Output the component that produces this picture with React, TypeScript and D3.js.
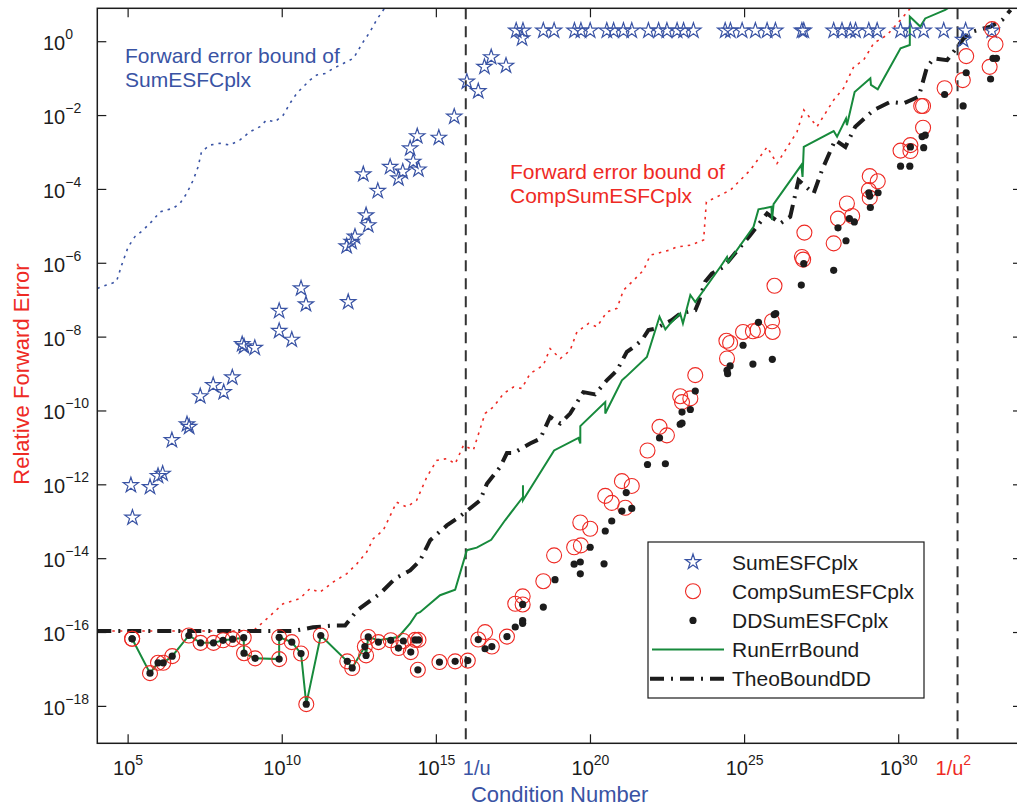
import React from "react";
import * as d3 from "d3";

// all values are log10 of the condition number / relative forward error

const sumCond = [5.09, 5.14, 5.71, 5.97, 6.12, 6.42, 6.91, 6.98, 7.34, 7.76, 8.1, 8.38, 8.7, 8.76, 9.11, 9.9, 9.9, 10.31, 10.61, 10.77, 12.14, 12.09, 12.25, 12.36, 12.72, 12.79, 13.1, 12.63, 13.5, 13.77, 13.91, 14.25, 14.42, 14.15, 14.38, 15.08, 15.58, 15.99, 16.36, 16.56, 16.78, 17.26, 17.78, 32.09];
const sumErr = [-12.01, -12.89, -12.06, -11.76, -11.7, -10.79, -10.36, -10.43, -9.6, -9.3, -9.49, -9.09, -8.19, -8.25, -8.29, -7.29, -7.83, -8.07, -6.68, -7.11, -7.05, -5.54, -5.42, -5.28, -4.7, -4.97, -4.04, -3.59, -3.39, -3.7, -3.52, -3.25, -3.46, -2.89, -2.56, -2.6, -2.03, -1.08, -1.34, -0.68, -0.42, -0.65, 0.09, 0.05];
// stars that saturate at an error of about 2
const sumTopCond = [17.59, 17.81, 18.47, 18.82, 19.48, 19.69, 19.99, 20.53, 20.75, 21.07, 21.34, 21.88, 22.21, 22.48, 22.81, 23.02, 23.34, 24.37, 24.54, 24.92, 25.35, 25.73, 26.0, 26.86, 26.92, 27.89, 28.16, 28.43, 28.6, 29.03, 29.3, 30.06, 30.38, 30.81, 31.46, 32.17, 33.02];
const sumTopErr = [0.3, 0.3, 0.3, 0.3, 0.3, 0.3, 0.3, 0.3, 0.3, 0.3, 0.3, 0.3, 0.3, 0.3, 0.3, 0.3, 0.3, 0.3, 0.3, 0.3, 0.3, 0.3, 0.3, 0.3, 0.3, 0.3, 0.3, 0.3, 0.3, 0.3, 0.3, 0.3, 0.3, 0.3, 0.3, 0.3, 0.3];

// points where CompSum and DDSum coincide (both near u)
const sharedCond = [5.13, 5.13, 5.71, 5.97, 6.14, 6.43, 6.97, 7.35, 7.77, 8.08, 8.39, 8.75, 8.76, 9.12, 9.9, 9.9, 10.31, 10.61, 10.78, 11.25, 12.11, 12.27, 12.68, 12.72, 12.79, 13.12, 13.52, 13.77, 13.93, 14.17, 14.31, 14.42, 14.4, 15.1, 15.61, 16.02, 16.36, 16.8, 17.29];
const sharedErr = [-16.17, -16.17, -17.1, -16.82, -16.82, -16.64, -16.08, -16.28, -16.28, -16.21, -16.18, -16.14, -16.56, -16.7, -16.13, -16.72, -16.26, -16.57, -17.94, -16.08, -16.78, -16.96, -16.38, -16.62, -16.12, -16.26, -16.21, -16.42, -16.23, -16.53, -16.2, -16.2, -17.01, -16.8, -16.78, -16.76, -16.19, -16.38, -16.11];

const compCond = [16.58, 17.56, 17.8, 17.8, 18.47, 18.82, 19.47, 19.69, 19.67, 19.99, 20.48, 20.69, 21.13, 21.02, 21.34, 21.85, 22.24, 22.48, 22.91, 22.97, 23.24, 23.4, 24.41, 24.53, 24.43, 24.95, 25.27, 25.42, 25.89, 25.91, 25.97, 26.94, 26.86, 26.9, 27.89, 28.03, 28.32, 28.49, 29.06, 29.32, 29.03, 29.06, 30.06, 30.38, 30.38, 30.79, 30.73, 30.79, 31.49, 32.19, 32.08, 33.03, 33.14, 32.95];
const compErr = [-15.99, -15.22, -15.02, -15.24, -14.61, -13.91, -13.69, -13.64, -13.02, -13.19, -12.3, -12.49, -12.62, -11.9, -12.03, -11.07, -10.43, -10.66, -9.6, -9.76, -9.66, -9.03, -8.1, -8.16, -8.58, -7.86, -7.84, -7.81, -7.57, -7.86, -6.61, -5.17, -5.83, -5.9, -5.46, -4.79, -4.38, -4.72, -3.64, -3.78, -4.02, -4.23, -2.95, -2.8, -2.96, -1.74, -1.74, -2.33, -1.26, -0.39, -1.04, 0.34, -0.07, -0.68];

const ddCond = [16.58, 17.56, 17.8, 17.8, 17.8, 18.47, 18.85, 19.47, 19.67, 19.67, 19.99, 20.44, 20.48, 20.69, 21.02, 21.34, 21.16, 21.85, 22.24, 22.43, 23.4, 22.97, 23.24, 22.91, 22.97, 24.53, 24.43, 24.45, 24.95, 25.27, 25.45, 25.96, 26.01, 25.9, 26.84, 27.89, 26.92, 28.29, 28.03, 28.4, 28.56, 29.03, 29.06, 29.33, 29.08, 30.06, 30.36, 30.38, 30.81, 30.76, 30.86, 31.49, 32.09, 32.19, 33.06, 33.17, 32.98];
const ddErr = [-16.44, -15.85, -15.24, -15.68, -15.75, -15.31, -14.57, -14.15, -14.09, -14.41, -13.69, -14.14, -13.25, -12.98, -12.71, -12.64, -12.21, -11.45, -10.73, -11.43, -9.46, -10.03, -9.96, -10.36, -10.33, -8.78, -8.9, -8.99, -8.22, -8.73, -7.6, -7.39, -7.36, -8.6, -6.59, -6.19, -6.01, -5.39, -5.04, -4.79, -4.88, -4.09, -4.18, -4.09, -4.49, -3.37, -3.37, -2.85, -2.87, -2.57, -2.53, -1.43, -1.74, -0.84, -0.45, -0.45, -1.01];

const runCond = [5.13, 5.71, 5.97, 6.14, 6.43, 6.97, 7.35, 7.77, 8.08, 8.39, 8.75, 8.76, 9.12, 9.9, 9.9, 10.31, 10.61, 10.78, 11.25, 12.11, 12.27, 12.68, 12.72, 12.79, 13.12, 13.77, 14.15, 14.36, 14.47, 15.12, 15.61, 15.99, 16.31, 16.78, 17.23, 17.81, 17.81, 17.81, 18.82, 19.61, 19.67, 19.67, 20.48, 20.48, 21.02, 21.13, 21.83, 22.24, 22.43, 22.59, 22.91, 23.0, 23.24, 23.4, 24.21, 24.43, 24.47, 25.29, 25.45, 25.87, 25.89, 25.94, 26.84, 26.88, 26.92, 27.89, 28.0, 28.29, 28.32, 28.57, 29.08, 29.1, 29.32, 30.06, 30.36, 30.36, 30.7, 30.86, 31.51, 32.0];
const runErr = [-16.17, -17.1, -16.82, -16.82, -16.64, -16.08, -16.28, -16.28, -16.21, -16.18, -16.14, -16.56, -16.7, -16.72, -16.13, -16.26, -16.57, -17.94, -16.08, -16.78, -16.96, -16.38, -16.62, -16.12, -16.21, -16.12, -15.75, -15.49, -15.45, -14.99, -14.84, -13.77, -13.7, -13.49, -12.96, -12.33, -12.01, -12.42, -11.07, -10.73, -10.88, -10.41, -9.76, -10.07, -9.17, -9.09, -8.54, -7.45, -7.79, -7.63, -7.36, -7.63, -6.86, -7.05, -6.1, -5.83, -5.97, -5.01, -4.54, -4.47, -4.83, -4.4, -3.34, -3.66, -2.85, -2.42, -2.57, -2.08, -2.26, -1.36, -0.99, -1.17, -1.29, -0.18, -0.09, 0.68, 0.41, 0.63, 0.86, 1.13];

const theoCond = [4.0, 10.35, 11.0, 11.66, 12.04, 12.43, 13.18, 13.66, 14.15, 14.47, 14.8, 15.34, 15.66, 15.88, 16.42, 16.64, 17.07, 17.29, 17.5, 18.04, 18.37, 18.69, 19.02, 19.34, 19.77, 20.15, 20.53, 20.86, 21.18, 21.4, 21.67, 21.88, 22.1, 22.64, 22.91, 23.4, 23.51, 23.72, 23.94, 24.32, 25.18, 25.73, 26.16, 26.48, 26.75, 27.24, 27.51, 27.94, 28.27, 28.59, 29.19, 29.73, 30.16, 30.65, 30.92, 31.14, 31.57, 32.11, 32.38, 32.98, 33.36, 33.63];
const theoErr = [-15.96, -15.96, -15.86, -15.81, -15.81, -15.4, -14.94, -14.54, -14.32, -14.05, -13.5, -13.1, -12.92, -12.78, -12.42, -11.97, -11.52, -11.14, -11.14, -10.88, -10.75, -10.16, -10.34, -10.07, -9.49, -9.55, -9.17, -8.9, -8.4, -8.27, -8.08, -7.81, -7.77, -7.54, -7.36, -7.27, -7.05, -6.5, -6.28, -6.1, -5.24, -4.65, -4.92, -4.74, -3.75, -4.11, -3.48, -2.66, -2.85, -2.3, -1.85, -1.63, -1.67, -1.49, -0.68, -0.45, -0.5, 0.09, 0.27, 0.41, 0.59, 0.86];

const sumBoundCond = [4.0, 4.3, 4.62, 4.79, 5.0, 5.22, 5.49, 5.81, 6.03, 6.46, 6.68, 6.9, 7.11, 7.27, 7.38, 7.65, 7.98, 8.3, 8.63, 8.95, 9.28, 9.49, 9.76, 10.03, 10.25, 10.47, 10.68, 10.9, 11.12, 11.39, 11.66, 11.98, 12.31, 12.63, 12.85, 13.06, 13.28, 13.5];
const sumBoundErr = [-6.68, -6.59, -6.5, -6.05, -5.56, -5.28, -5.1, -4.83, -4.61, -4.51, -4.38, -4.11, -3.75, -3.39, -2.98, -2.8, -2.75, -2.8, -2.66, -2.44, -2.3, -2.12, -2.17, -1.99, -1.67, -1.4, -1.22, -1.04, -0.9, -0.86, -0.72, -0.59, -0.45, 0.0, 0.27, 0.59, 0.86, 1.13];

const compBoundCond = [4.0, 9.05, 9.38, 10.03, 10.57, 10.9, 11.22, 11.66, 12.09, 12.42, 12.74, 12.95, 13.28, 13.71, 14.04, 14.36, 14.69, 15.01, 15.34, 15.61, 15.88, 16.2, 16.58, 16.85, 17.18, 17.5, 17.77, 18.04, 18.47, 18.69, 19.02, 19.34, 19.56, 19.94, 20.21, 20.53, 20.86, 21.07, 21.4, 21.72, 21.94, 22.58, 22.8, 23.24, 23.67, 23.76, 24.54, 25.18, 25.73, 26.05, 26.7, 26.92, 27.35, 27.89, 28.21, 28.54, 28.86, 29.19, 29.62, 30.06, 30.38];
const compBoundErr = [-15.96, -15.96, -15.72, -15.22, -15.08, -14.81, -14.91, -14.63, -14.41, -14.14, -13.82, -13.46, -13.23, -12.47, -12.6, -12.42, -11.79, -11.34, -11.29, -11.43, -10.93, -11.06, -10.07, -9.89, -9.53, -9.35, -9.39, -8.99, -8.76, -8.31, -8.58, -8.36, -7.86, -7.63, -7.72, -7.32, -7.22, -6.73, -6.46, -6.19, -5.78, -5.64, -5.56, -5.51, -5.37, -4.34, -4.02, -3.48, -2.85, -3.3, -2.44, -1.85, -2.3, -1.58, -1.26, -0.68, -0.5, -0.04, 0.18, 0.59, 0.91];

const xTicks = [5, 10, 15, 20, 25, 30];
const yTicks = [0, -2, -4, -6, -8, -10, -12, -14, -16, -18];
const invU = 53 * Math.log10(2); // 1/u
const invU2 = 106 * Math.log10(2); // 1/u^2

const legendItems = ["SumESFCplx", "CompSumESFCplx", "DDSumESFCplx", "RunErrBound", "TheoBoundDD"];

const BLUE = "#3953a4";
const RED = "#ee2a24";
const GREEN = "#178a3c";
const INK = "#1c1c1c";
const FONT = "'Liberation Sans', Arial, Helvetica, sans-serif";

const exp = (n: number) => (n < 0 ? "\u2212" + Math.abs(n) : String(n));

export default function App() {
  const L = 97.3, R = 1022, T = 8.3, B = 743.3;
  const x = d3.scaleLog().domain([1e4, 1e34]).range([L, R]);
  const y = d3.scaleLog().domain([1e-19, Math.pow(10, 0.905)]).range([B, T]);
  const px = (v: number) => x(Math.pow(10, v));
  const py = (v: number) => y(Math.pow(10, v));
  const zip = (a: number[], b: number[]) => a.map((v, i) => [v, b[i]] as [number, number]);
  const line = d3.line<[number, number]>().x((d) => px(d[0])).y((d) => py(d[1]));
  const star = d3.symbol().type(d3.symbolStar).size(72)() as string;

  const stars = zip(sumCond.concat(sumTopCond), sumErr.concat(sumTopErr));
  const circles = zip(sharedCond.concat(compCond), sharedErr.concat(compErr));
  const dots = zip(sharedCond.concat(ddCond), sharedErr.concat(ddErr));

  return (
    <svg width={1017} height={809} style={{ position: "absolute", left: 0, top: 0, background: "#fff" }} fontFamily={FONT}>
      <defs>
        <clipPath id="plot">
          <rect x={L} y={T} width={R - L} height={B - T} />
        </clipPath>
      </defs>

      <g clipPath="url(#plot)">
        <path d={line(zip(sumBoundCond, sumBoundErr)) || ""} fill="none" stroke={BLUE} strokeWidth={1.6} strokeDasharray="2.5,5" />
        <path d={line(zip(compBoundCond, compBoundErr)) || ""} fill="none" stroke={RED} strokeWidth={1.6} strokeDasharray="2.5,5" />
        {[invU, invU2].map((v) => (
          <line key={v} x1={px(v)} x2={px(v)} y1={T} y2={B} stroke="#333" strokeWidth={2} strokeDasharray="11,7" />
        ))}
        <path d={line(zip(theoCond, theoErr)) || ""} fill="none" stroke={INK} strokeWidth={4} strokeDasharray="14,7,2,7" />
        <path d={line(zip(runCond, runErr)) || ""} fill="none" stroke={GREEN} strokeWidth={2} strokeLinejoin="miter" />
        {stars.map((d, i) => (
          <path key={"s" + i} d={star} transform={`translate(${px(d[0])},${py(d[1])})`} fill="none" stroke={BLUE} strokeWidth={1.2} />
        ))}
        {circles.map((d, i) => (
          <circle key={"c" + i} cx={px(d[0])} cy={py(d[1])} r={7.5} fill="none" stroke={RED} strokeWidth={1.1} />
        ))}
        {dots.map((d, i) => (
          <circle key={"d" + i} cx={px(d[0])} cy={py(d[1])} r={3.6} fill={INK} />
        ))}
      </g>

      {/* axes box with inward ticks */}
      <rect x={L} y={T} width={R - L} height={B - T} fill="none" stroke={INK} strokeWidth={1.5} />
      {xTicks.map((t) => (
        <g key={"xt" + t}>
          <line x1={px(t)} x2={px(t)} y1={B} y2={B - 9} stroke={INK} strokeWidth={1.2} />
          <line x1={px(t)} x2={px(t)} y1={T} y2={T + 9} stroke={INK} strokeWidth={1.2} />
          <text x={px(t)} y={775} textAnchor="middle" fontSize={20} fill={INK}>
            10<tspan dy={-10} fontSize={14}>{exp(t)}</tspan>
          </text>
        </g>
      ))}
      {yTicks.map((t) => (
        <g key={"yt" + t}>
          <line x1={L} x2={L + 9} y1={py(t)} y2={py(t)} stroke={INK} strokeWidth={1.2} />
          <line x1={R} x2={R - 9} y1={py(t)} y2={py(t)} stroke={INK} strokeWidth={1.2} />
          <text x={43} y={py(t) + 8.5} fontSize={20} fill={INK}>
            10<tspan dy={-11} fontSize={14}>{exp(t)}</tspan>
          </text>
        </g>
      ))}

      <text x={px(invU) - 3} y={775} fontSize={20} fill={BLUE}>1/u</text>
      <text x={px(invU2) - 22} y={775} fontSize={20} fill={RED}>
        1/u<tspan dy={-10} fontSize={14}>2</tspan>
      </text>

      <text x={(L + R) / 2} y={802} textAnchor="middle" fontSize={22} fill={BLUE}>Condition Number</text>
      <text transform="translate(29,374) rotate(-90)" textAnchor="middle" fontSize={22} fill={RED}>Relative Forward Error</text>

      <text x={125} y={63} fontSize={21} fill={BLUE}>Forward error bound of</text>
      <text x={125} y={87} fontSize={21} fill={BLUE}>SumESFCplx</text>
      <text x={510} y={179} fontSize={21} fill={RED}>Forward error bound of</text>
      <text x={510} y={203} fontSize={21} fill={RED}>CompSumESFCplx</text>

      {/* legend */}
      <g>
        <rect x={648} y={542} width={276} height={156} fill="#fff" stroke={INK} strokeWidth={1.2} />
        {legendItems.map((name, i) => {
          const cy = 562 + i * 29.2;
          return (
            <g key={name}>
              {i === 0 && <path d={star} transform={`translate(693,${cy})`} fill="none" stroke={BLUE} strokeWidth={1.2} />}
              {i === 1 && <circle cx={693} cy={cy} r={7.5} fill="none" stroke={RED} strokeWidth={1.1} />}
              {i === 2 && <circle cx={693} cy={cy} r={3.6} fill={INK} />}
              {i === 3 && <line x1={652} x2={724} y1={cy} y2={cy} stroke={GREEN} strokeWidth={2} />}
              {i === 4 && <line x1={650} x2={724} y1={cy} y2={cy} stroke={INK} strokeWidth={4} strokeDasharray="14,7,2,7" />}
              <text x={732} y={cy + 7.5} fontSize={21} fill={INK}>{name}</text>
            </g>
          );
        })}
      </g>
    </svg>
  );
}
